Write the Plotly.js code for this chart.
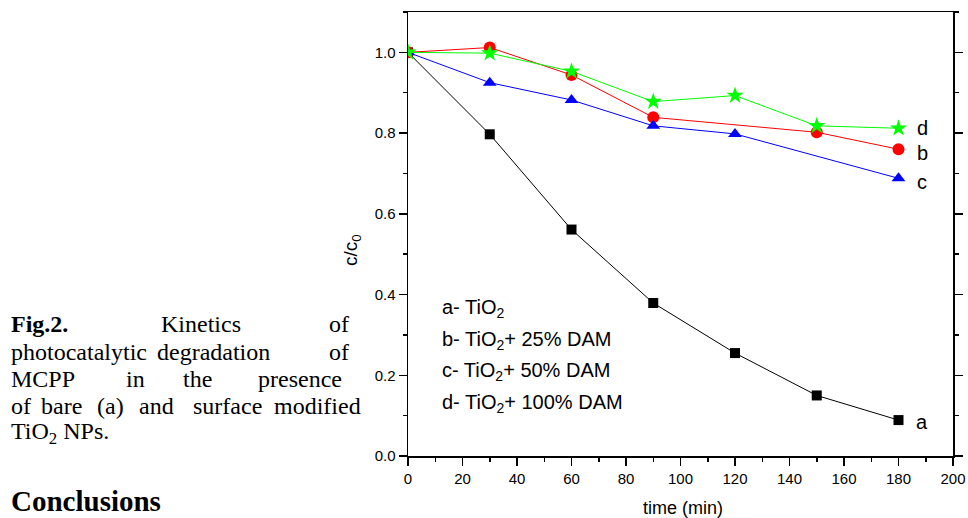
<!DOCTYPE html>
<html>
<head>
<meta charset="utf-8">
<script src="https://cdn.plot.ly/plotly-3.0.1.min.js"></script>
<style>html,body{margin:0;padding:0;background:#fff;}#chart{width:968px;height:518px;}</style>
</head>
<body>
<div id="chart"></div>
<script>
// time (min)
var timeA = [0, 30, 60, 90, 120, 150, 180];
var valA  = [1.0, 0.797, 0.561, 0.379, 0.255, 0.150, 0.089];
var timeB = [0, 30, 60, 90, 150, 180];
var valB  = [1.0, 1.012, 0.944, 0.839, 0.802, 0.760];
var timeC = [0, 30, 60, 90, 120, 180];
var valC  = [1.0, 0.925, 0.882, 0.818, 0.798, 0.688];
var timeD = [0, 30, 60, 90, 120, 150, 180];
var valD  = [1.0, 0.998, 0.953, 0.878, 0.893, 0.818, 0.812];
var seriesLetters = ['a', 'b', 'c', 'd'];
var legendLines = ['a- TiO<sub>2</sub>', 'b- TiO<sub>2</sub>+ 25% DAM', 'c- TiO<sub>2</sub>+ 50% DAM', 'd- TiO<sub>2</sub>+ 100% DAM'];

var L = 408, R = 953, T = 12, B = 456, W = 968, H = 518;
function px(x){ return (x - L) / (R - L); }
function py(y){ return (B - y) / (B - T); }

var traces = [
  {x: timeA, y: valA, mode: 'lines+markers', line: {color: '#000000', width: 1}, marker: {symbol: 'square', size: 10, color: '#000000'}},
  {x: timeB, y: valB, mode: 'lines+markers', line: {color: '#ff0000', width: 1}, marker: {symbol: 'circle', size: 12, color: '#ff0000'}},
  {x: timeC, y: valC, mode: 'lines+markers', line: {color: '#0000ff', width: 1}, marker: {symbol: 'triangle-up', size: 12, color: '#0000ff'}},
  {x: timeD, y: valD, mode: 'lines+markers', line: {color: '#00ff00', width: 1}, marker: {symbol: 'star', size: 13, color: '#00ff00'}}
];

var sans = 'Liberation Sans, Arial, sans-serif';
var serif = 'Liberation Serif, Times New Roman, serif';
var ann = [];
// series letters at the line ends
var letterY = {a: 422, b: 153, c: 182, d: 128};
seriesLetters.forEach(function(s){
  ann.push({xref: 'paper', yref: 'paper', x: px(922), y: py(letterY[s]), text: s, showarrow: false,
            xanchor: 'center', yanchor: 'middle', font: {family: sans, size: 20, color: '#000'}});
});
// in-plot legend text
var legY = [308, 340, 371, 403];
legendLines.forEach(function(t, i){
  ann.push({xref: 'paper', yref: 'paper', x: px(440), y: py(legY[i]), text: t, showarrow: false,
            xanchor: 'left', yanchor: 'middle', font: {family: sans, size: 20, color: '#000'}});
});
// y axis title
ann.push({xref: 'paper', yref: 'paper', x: px(352), y: py(250), text: 'c/c<sub>0</sub>', textangle: -90,
          showarrow: false, xanchor: 'center', yanchor: 'middle', font: {family: sans, size: 19, color: '#000'}});
// x axis title
ann.push({xref: 'paper', yref: 'paper', x: px(683), y: py(508), text: 'time (min)',
          showarrow: false, xanchor: 'center', yanchor: 'middle', font: {family: sans, size: 18, color: '#000'}});

// caption text (justified: first word left, last word right, middle words centred)
var capWords = [
  {t: '<b>Fig.2.</b>', x: 9, a: 'left', y: 324},
  {t: 'Kinetics', x: 201, a: 'center', y: 324},
  {t: 'of', x: 351, a: 'right', y: 324},
  {t: 'photocatalytic', x: 9, a: 'left', y: 352},
  {t: 'degradation', x: 213, a: 'center', y: 352},
  {t: 'of', x: 351, a: 'right', y: 352},
  {t: 'MCPP', x: 9, a: 'left', y: 379},
  {t: 'in', x: 135.5, a: 'center', y: 379},
  {t: 'the', x: 197.5, a: 'center', y: 379},
  {t: 'presence', x: 344, a: 'right', y: 379},
  {t: 'of', x: 9, a: 'left', y: 406},
  {t: 'bare', x: 61.5, a: 'center', y: 406},
  {t: '(a)', x: 110, a: 'center', y: 406},
  {t: 'and', x: 156.5, a: 'center', y: 406},
  {t: 'surface', x: 227.5, a: 'center', y: 406},
  {t: 'modified', x: 363, a: 'right', y: 406},
  {t: 'TiO<sub>2</sub> NPs.', x: 9, a: 'left', y: 433}
];
capWords.forEach(function(w){
  ann.push({xref: 'paper', yref: 'paper', x: px(w.x), y: py(w.y), text: w.t, showarrow: false,
            xanchor: w.a, yanchor: 'middle', font: {family: serif, size: 24, color: '#000'}});
});
ann.push({xref: 'paper', yref: 'paper', x: px(9), y: py(501), text: '<b>Conclusions</b>', showarrow: false,
          xanchor: 'left', yanchor: 'middle', font: {family: serif, size: 29, color: '#000'}});

var layout = {
  width: W, height: H,
  margin: {l: L, r: W - R, t: T, b: H - B, pad: 0},
  paper_bgcolor: '#fff', plot_bgcolor: '#fff',
  showlegend: false,
  font: {family: sans, color: '#000'},
  xaxis: {range: [0, 200], dtick: 20, tick0: 0, ticks: 'outside', ticklen: 8, tickwidth: 1.5, tickcolor: '#000',
          showline: true, linecolor: '#000', linewidth: 1.5, mirror: true, showgrid: false, zeroline: false,
          tickfont: {family: sans, size: 15, color: '#000'},
          minor: {dtick: 10, ticks: 'outside', ticklen: 4, tickwidth: 1.5, tickcolor: '#000', showgrid: false}},
  yaxis: {range: [0, 1.1], dtick: 0.2, tick0: 0, tickformat: '.1f', ticks: 'outside', ticklen: 8, tickwidth: 1.5, tickcolor: '#000',
          showline: true, linecolor: '#000', linewidth: 1.5, mirror: 'ticks', showgrid: false, zeroline: false,
          tickfont: {family: sans, size: 15, color: '#000'},
          minor: {dtick: 0.1, ticks: 'outside', ticklen: 4, tickwidth: 1.5, tickcolor: '#000', showgrid: false}},
  annotations: ann
};

Plotly.newPlot('chart', traces, layout, {displayModeBar: false, staticPlot: true});
</script>
</body>
</html>
